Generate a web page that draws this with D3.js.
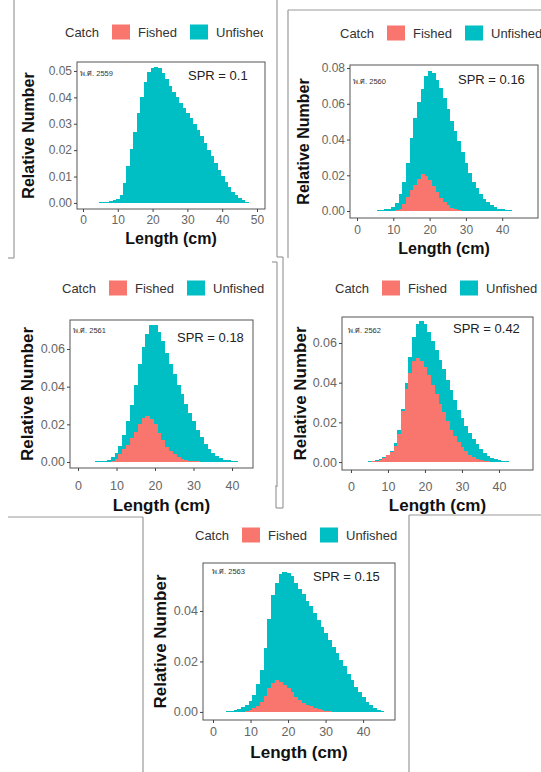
<!DOCTYPE html>
<html><head><meta charset="utf-8">
<script src="https://cdn.jsdelivr.net/npm/d3@7"></script>
<style>
body{margin:0;background:#fff;}
svg{display:block;font-family:'Liberation Sans',Arial,'Noto Sans',sans-serif;}
</style>
</head><body>
<svg id="c" width="541" height="772"></svg>
<script>
// ---------------- DATA ----------------
const lengths = [3,4,5,6,7,8,9,10,11,12,13,14,15,16,17,18,19,20,21,22,23,24,25,26,27,28,29,30,31,32,33,34,35,36,37,38,39,40,41,42,43,44,45,46,47];

const yearLabels = ["พ.ศ. 2559","พ.ศ. 2560","พ.ศ. 2561","พ.ศ. 2562","พ.ศ. 2563"];
const sprLabels = ["SPR = 0.1","SPR = 0.16","SPR = 0.18","SPR = 0.42","SPR = 0.15"];
const legendTitle = "Catch";
const seriesNames = ["Fished","Unfished"];
const axisTitleX = "Length (cm)";
const axisTitleY = "Relative Number";

const unfished2559 = [0,0,0.0002,0.0003,0.0004,0.0006,0.0010,0.0016,0.0030,0.0075,0.0140,0.0205,0.0270,0.0340,0.0403,0.0458,0.0497,0.0512,0.0516,0.0512,0.0492,0.0468,0.0442,0.0420,0.0400,0.0379,0.0360,0.0342,0.0321,0.0299,0.0277,0.0252,0.0227,0.0201,0.0176,0.0151,0.0126,0.0101,0.0078,0.0059,0.0043,0.0030,0.0020,0.0012,0.0005];
const fished2559 = [0,0,0,0,0,0,0,0,0,0,0,0,0,0,0,0,0,0,0,0,0,0,0,0,0,0,0,0,0,0,0,0,0,0,0,0,0,0,0,0,0,0,0,0,0];

const unfished2560 = [0,0.0001,0.0002,0.0004,0.0006,0.0009,0.0012,0.0020,0.0045,0.0095,0.0160,0.0270,0.0407,0.0520,0.0610,0.0680,0.0755,0.0785,0.0772,0.0735,0.0690,0.0630,0.0570,0.0505,0.0445,0.0390,0.0330,0.0270,0.0210,0.0164,0.0128,0.0097,0.0068,0.0048,0.0033,0.0022,0.0014,0.0009,0.0006,0.0004,0.0002,0.0001,0,0,0];
const fished2560 = [0,0,0,0,0,0,0,0.0002,0.0006,0.0012,0.0040,0.0078,0.0115,0.0145,0.0180,0.0205,0.0198,0.0175,0.0140,0.0105,0.0075,0.0050,0.0032,0.0018,0.0009,0.0004,0.0002,0,0,0,0,0,0,0,0,0,0,0,0,0,0,0,0,0,0];

const unfished2561 = [0,0.0002,0.0003,0.0005,0.0007,0.0012,0.0025,0.0050,0.0085,0.0145,0.0220,0.0300,0.0410,0.0520,0.0610,0.0680,0.0730,0.0725,0.0690,0.0640,0.0580,0.0520,0.0465,0.0410,0.0360,0.0310,0.0262,0.0215,0.0170,0.0130,0.0098,0.0071,0.0050,0.0033,0.0021,0.0013,0.0008,0.0005,0.0003,0.0001,0,0,0,0,0];
const fished2561 = [0,0,0,0,0,0,0.0005,0.0015,0.0040,0.0068,0.0090,0.0125,0.0160,0.0200,0.0235,0.0244,0.0228,0.0200,0.0155,0.0115,0.0082,0.0058,0.0040,0.0027,0.0018,0.0011,0.0007,0.0005,0.0003,0.0001,0,0,0,0,0,0,0,0,0,0,0,0,0,0,0];

const unfished2562 = [0,0.0001,0.0003,0.0006,0.0010,0.0015,0.0024,0.0038,0.0055,0.0095,0.0160,0.0265,0.0400,0.0530,0.0630,0.0695,0.0710,0.0695,0.0655,0.0610,0.0563,0.0515,0.0468,0.0415,0.0365,0.0312,0.0262,0.0222,0.0183,0.0147,0.0118,0.0090,0.0065,0.0045,0.0031,0.0021,0.0014,0.0009,0.0005,0.0003,0.0002,0.0001,0,0,0];
const fished2562 = [0,0.0001,0.0002,0.0004,0.0007,0.0012,0.0022,0.0035,0.0052,0.0080,0.0140,0.0255,0.0370,0.0450,0.0510,0.0524,0.0510,0.0480,0.0440,0.0390,0.0342,0.0295,0.0250,0.0205,0.0163,0.0130,0.0100,0.0075,0.0055,0.0037,0.0025,0.0017,0.0011,0.0007,0.0004,0.0002,0.0001,0,0,0,0,0,0,0,0];

const unfished2563 = [0,0.0002,0.0005,0.0008,0.0012,0.0018,0.0028,0.0045,0.0068,0.0110,0.0167,0.0255,0.0370,0.0465,0.0511,0.0545,0.0556,0.0552,0.0538,0.0512,0.0488,0.0467,0.0440,0.0418,0.0390,0.0365,0.0338,0.0312,0.0285,0.0259,0.0233,0.0206,0.0180,0.0152,0.0125,0.0100,0.0078,0.0058,0.0040,0.0026,0.0015,0.0008,0.0003,0.0001,0];
const fished2563 = [0,0,0,0,0,0,0.0004,0.0008,0.0014,0.0022,0.0040,0.0065,0.0093,0.0115,0.0125,0.0120,0.0108,0.0093,0.0078,0.0060,0.0047,0.0037,0.0029,0.0022,0.0016,0.0011,0.0007,0.0004,0.0003,0.0001,0,0,0,0,0,0,0,0,0,0,0,0,0,0,0];

const xTickValues = [0,10,20,30,40,50];
const yTicks2559 = [0,0.01,0.02,0.03,0.04,0.05];
const yTicks2560 = [0,0.02,0.04,0.06,0.08];
const yTicks2561 = [0,0.02,0.04,0.06];
const yTicks2562 = [0,0.02,0.04,0.06];
const yTicks2563 = [0,0.02,0.04];

// ---------------- LAYOUT / STYLE ----------------
const colors = {Fished:"#F8766D", Unfished:"#00BFC4"};

const panels = [
  {unf:unfished2559, fis:fished2559, yt:yTicks2559, year:0,
   box:[77,265,62,209], xd:[-1.72,52.3], yd:[-0.0023,0.0534],
   tickPad:3, lenY:244, relX:28, titleSize:16, tickSize:12,
   leg:{x:65,y:32,clip:263}, yr:[80,76], spr:[188,80]},
  {unf:unfished2560, fis:fished2560, yt:yTicks2560, year:1,
   box:[350,538,65,218], xd:[-1.93,49.86], yd:[-0.0039,0.0817],
   tickPad:4, lenY:254, relX:303, titleSize:16, tickSize:12,
   leg:{x:340,y:33,clip:541}, yr:[353,84], spr:[458,84]},
  {unf:unfished2561, fis:fished2561, yt:yTicks2561, year:2,
   box:[70,253,320,468], xd:[-2.08,45.45], yd:[-0.0032,0.0754],
   tickPad:10, lenY:511, relX:27, titleSize:17, tickSize:12.5,
   leg:{x:62,y:288,clip:270}, yr:[73,333], spr:[177,342]},
  {unf:unfished2562, fis:fished2562, yt:yTicks2562, year:3,
   box:[342,533,317,470], xd:[-2.42,49.2], yd:[-0.004,0.0731],
   tickPad:9, lenY:511, relX:300, titleSize:17, tickSize:12.5,
   leg:{x:335,y:288,clip:541}, yr:[348,333], spr:[453,333]},
  {unf:unfished2563, fis:fished2563, yt:yTicks2563, year:4,
   box:[203,395,563,720], xd:[-2.67,48.5], yd:[-0.0032,0.059],
   tickPad:4, lenY:758, relX:160, titleSize:17, tickSize:12.5,
   leg:{x:195,y:535,clip:405}, yr:[212,574], spr:[313,581]}
];

// frame lines of the composed screenshots
const frameLines = [
  [14,0,14,258],[8,258,14,258],
  [277,0,277,257],[277,257,283,257],[283,257,283,262],
  [288,10,541,10],[288,10,288,258],
  [272,262,277,262],[277,262,277,487],
  [283,262,283,508],[276,508,283,508],[276,485,276,508],
  [8,517,143,517],[143,517,143,772],
  [409,515,541,515],[409,515,409,772]
];

const svg = d3.select("#c");
const defs = svg.append("defs");

svg.append("g").selectAll("line").data(frameLines).join("line")
  .attr("x1",d=>d[0]).attr("y1",d=>d[1]).attr("x2",d=>d[2]).attr("y2",d=>d[3])
  .attr("stroke","#9a9a9a").attr("stroke-width",1.2);

panels.forEach((p,pi)=>{
  const [bx0,bx1,by0,by1] = p.box;
  const x = d3.scaleLinear().domain(p.xd).range([bx0,bx1]);
  const y = d3.scaleLinear().domain(p.yd).range([by1,by0]);
  const g = svg.append("g");

  const cid = "clip"+pi;
  defs.append("clipPath").attr("id",cid).append("rect")
    .attr("x",bx0).attr("y",by0).attr("width",bx1-bx0).attr("height",by1-by0);
  const plot = g.append("g").attr("clip-path",`url(#${cid})`).attr("shape-rendering","crispEdges");

  const rows = lengths.map((L,i)=>({L, u:p.unf[i], f:p.fis[i]}));
  plot.selectAll("rect.u").data(rows).join("rect").attr("class","u")
    .attr("x",d=>x(d.L-0.5)).attr("width",d=>x(d.L+0.5)-x(d.L-0.5)+0.6)
    .attr("y",d=>y(d.u)).attr("height",d=>y(0)-y(d.u))
    .attr("fill",colors.Unfished);
  plot.selectAll("rect.f").data(rows.filter(d=>d.f>0)).join("rect").attr("class","f")
    .attr("x",d=>x(d.L-0.5)).attr("width",d=>x(d.L+0.5)-x(d.L-0.5)+0.6)
    .attr("y",d=>y(d.f)).attr("height",d=>y(0)-y(d.f))
    .attr("fill",colors.Fished);

  // panel border
  g.append("rect").attr("x",bx0).attr("y",by0).attr("width",bx1-bx0).attr("height",by1-by0)
    .attr("fill","none").attr("stroke","#555").attr("stroke-width",1);

  // axes
  const xt = xTickValues.filter(v=>v>=p.xd[0]&&v<=p.xd[1]);
  const ax = g.append("g").attr("transform",`translate(0,${by1})`)
    .call(d3.axisBottom(x).tickValues(xt).tickSize(3).tickPadding(p.tickPad).tickFormat(d3.format("d")));
  const ay = g.append("g").attr("transform",`translate(${bx0},0)`)
    .call(d3.axisLeft(y).tickValues(p.yt).tickSize(3).tickPadding(2).tickFormat(d3.format(".2f")));
  [ax,ay].forEach(a=>{
    a.select(".domain").remove();
    a.selectAll(".tick line").attr("stroke","#444");
    a.selectAll(".tick text").attr("fill","#666").style("font-size",p.tickSize+"px")
      .style("font-family","'Liberation Sans',Arial,sans-serif");
  });

  // axis titles
  g.append("text").attr("x",(bx0+bx1)/2).attr("y",p.lenY).attr("text-anchor","middle")
    .style("font-weight","bold").style("font-size",p.titleSize+"px").attr("fill","#111").text(axisTitleX);
  g.append("text").attr("transform",`translate(${p.relX+p.titleSize*0.35},${(by0+by1)/2}) rotate(-90)`)
    .attr("text-anchor","middle").style("font-weight","bold").style("font-size",p.titleSize+"px")
    .attr("fill","#111").text(axisTitleY);

  // annotations
  g.append("text").attr("x",p.yr[0]).attr("y",p.yr[1]).style("font-size","7.5px").attr("fill","#333").text(yearLabels[p.year]);
  g.append("text").attr("x",p.spr[0]).attr("y",p.spr[1]).style("font-size","13px").attr("fill","#222").text(sprLabels[p.year]);

  // legend
  const lid = "lclip"+pi;
  defs.append("clipPath").attr("id",lid).append("rect")
    .attr("x",p.leg.x-10).attr("y",p.leg.y-15).attr("width",p.leg.clip-(p.leg.x-10)).attr("height",30);
  const lg = g.append("g").attr("clip-path",`url(#${lid})`);
  lg.append("text").attr("x",p.leg.x).attr("y",p.leg.y).attr("dy","0.35em")
    .style("font-size","13px").attr("fill","#333").text(legendTitle);
  const offs = [[47,73],[125,151]];
  seriesNames.forEach((s,k)=>{
    lg.append("rect").attr("x",p.leg.x+offs[k][0]).attr("y",p.leg.y-7.5).attr("width",18).attr("height",15)
      .attr("fill",colors[s]);
    lg.append("text").attr("x",p.leg.x+offs[k][1]).attr("y",p.leg.y).attr("dy","0.35em")
      .style("font-size","13px").attr("fill","#333").text(s);
  });
});
</script>
</body></html>
